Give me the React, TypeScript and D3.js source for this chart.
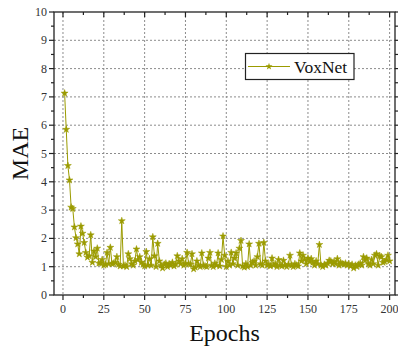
import React from "react";
import * as d3 from "d3";

const epochs: number[] = Array.from({ length: 200 }, (_, i) => i + 1);
const maeValues: number[] = [
  7.13, 5.85, 4.57, 4.06, 3.1, 3.05, 2.4, 2.02, 1.8, 1.45,
  2.43, 2.18, 1.85, 1.5, 1.33, 1.38, 2.12, 1.15, 1.55, 1.35,
  1.65, 1.12, 1.13, 1.25, 1.05, 1.08, 1.5, 1.1, 1.68, 1.1,
  1.12, 1.15, 1.35, 1.08, 1.02, 2.62, 1.02, 1.05, 1.0, 1.45,
  1.28, 1.1, 1.05, 1.2, 1.62, 1.25, 1.35, 1.15, 1.08, 1.02,
  1.53, 1.05, 1.28, 1.05, 2.05, 1.38, 1.0, 1.82, 1.2, 1.05,
  0.95, 1.08, 1.12, 1.0, 1.1, 1.05, 1.15, 1.02, 1.08, 1.38,
  1.2, 1.1, 1.28, 1.05, 1.12, 1.5, 1.1, 1.08, 1.45, 0.92,
  0.98, 1.2, 1.05, 1.0, 1.48, 1.05, 1.02, 1.0, 1.3, 1.5,
  1.05, 1.0, 1.12, 1.05, 1.48, 1.02, 1.25, 2.08, 1.4, 1.0,
  1.2, 1.05, 1.5, 1.1, 1.3, 1.48, 1.05, 1.65, 1.92, 1.02,
  0.98, 1.1, 1.0, 1.8, 1.05, 1.15, 1.2, 1.05, 1.35, 1.82,
  1.1, 1.05, 1.85, 1.2, 1.05, 1.08, 1.02, 1.3, 1.05, 1.1,
  1.0, 1.25, 1.05, 1.02, 1.22, 1.05, 1.0, 1.08, 1.4, 1.05,
  1.0, 1.1, 1.05, 1.02, 1.48, 1.2, 1.4, 1.25, 1.1, 1.3,
  1.18, 1.28, 1.15, 1.05, 1.2, 1.1, 1.78, 1.05, 1.0, 1.08,
  1.05, 1.12, 1.22, 1.2, 1.1, 1.18, 1.1, 1.28, 1.05, 1.15,
  1.1, 1.08, 1.12, 1.05, 1.1, 1.02, 1.08, 0.95, 1.05, 1.0,
  1.08, 1.12, 1.05, 1.35, 1.22, 1.3, 1.1, 1.05, 1.25, 1.1,
  1.4, 1.45, 1.05, 1.38, 1.35, 1.15, 1.18, 1.25, 1.4, 1.2,
];
const xTicks: number[] = [0, 25, 50, 75, 100, 125, 150, 175, 200];
const yTicks: number[] = [0, 1, 2, 3, 4, 5, 6, 7, 8, 9, 10];
const seriesName = "VoxNet";

const W = 398;
const H = 349;
const L = 54;
const R = 395;
const T = 12;
const B = 295;
const COLOR = "#9b9b00";
const FONT = '"Liberation Serif", "DejaVu Serif", serif';
const fontStyle = { fontFamily: FONT };

export default function App() {
  const x = d3.scaleLinear().domain([-5.5, 203.3]).range([L, R]);
  const y = d3.scaleLinear().domain([0, 10]).range([B, T]);
  const line = d3
    .line<number>()
    .x((_, i) => x(epochs[i]))
    .y((d) => y(d));
  const star = d3.symbol(d3.symbolStar, 15)() as string;
  const xMinor = xTicks.slice(0, -1).map((t) => t + 12.5);
  const yMinor = yTicks.slice(0, -1).map((t) => t + 0.5);

  return (
    <svg
      width={W}
      height={H}
      style={{ position: "absolute", left: 0, top: 0, background: "#fff" }}
    >
      <rect x={0} y={0} width={W} height={H} fill="#fff" />
      {/* grid */}
      <g stroke="#8c8c8c" strokeWidth={1} strokeDasharray="2,2">
        {xTicks.map((t) => (
          <line key={"gx" + t} x1={x(t)} x2={x(t)} y1={T} y2={B} />
        ))}
        {yTicks.slice(1, -1).map((t) => (
          <line key={"gy" + t} x1={L} x2={R} y1={y(t)} y2={y(t)} />
        ))}
      </g>
      {/* data */}
      <path d={line(maeValues) || ""} fill="none" stroke={COLOR} strokeWidth={1} />
      {maeValues.map((v, i) => (
        <path
          key={"m" + i}
          d={star}
          transform={`translate(${x(epochs[i])},${y(v)})`}
          fill={COLOR}
          stroke={COLOR}
          strokeWidth={0.5}
        />
      ))}
      {/* frame */}
      <rect x={L} y={T} width={R - L} height={B - T} fill="none" stroke="#222" strokeWidth={1.3} />
      {/* ticks */}
      <g stroke="#222" strokeWidth={1.2}>
        {xTicks.map((t) => (
          <line key={"bt" + t} x1={x(t)} x2={x(t)} y1={B} y2={B + 5} />
        ))}
        {xMinor.map((t) => (
          <line key={"bm" + t} x1={x(t)} x2={x(t)} y1={B} y2={B + 3} />
        ))}
        {xTicks.map((t) => (
          <line key={"tt" + t} x1={x(t)} x2={x(t)} y1={T} y2={T + 5} />
        ))}
        {xMinor.map((t) => (
          <line key={"tm" + t} x1={x(t)} x2={x(t)} y1={T} y2={T + 3} />
        ))}
        {yTicks.map((t) => (
          <line key={"lt" + t} x1={L - 5} x2={L} y1={y(t)} y2={y(t)} />
        ))}
        {yMinor.map((t) => (
          <line key={"lm" + t} x1={L - 3} x2={L} y1={y(t)} y2={y(t)} />
        ))}
        {yTicks.map((t) => (
          <line key={"rt" + t} x1={R} x2={R + 5} y1={y(t)} y2={y(t)} />
        ))}
        {yMinor.map((t) => (
          <line key={"rm" + t} x1={R} x2={R + 3} y1={y(t)} y2={y(t)} />
        ))}
      </g>
      {/* tick labels */}
      <g fill="#333" style={{ ...fontStyle, fontSize: 12 }}>
        {xTicks.map((t) => (
          <text key={"xl" + t} x={x(t)} y={B + 18} textAnchor="middle" style={fontStyle}>
            {t}
          </text>
        ))}
        {yTicks.map((t) => (
          <text key={"yl" + t} x={L - 7} y={y(t) + 4} textAnchor="end" style={fontStyle}>
            {t}
          </text>
        ))}
      </g>
      {/* axis titles */}
      <text
        x={(L + R) / 2}
        y={341}
        textAnchor="middle"
        fill="#111"
        style={{ ...fontStyle, fontSize: 24 }}
      >
        Epochs
      </text>
      <text
        transform={`translate(28,${(T + B) / 2}) rotate(-90)`}
        textAnchor="middle"
        fill="#111"
        style={{ ...fontStyle, fontSize: 24 }}
      >
        MAE
      </text>
      {/* legend */}
      <g>
        <rect x={245.5} y={53.5} width={108.5} height={26} fill="#fff" stroke="#222" strokeWidth={1.2} />
        <line x1={248} x2={290} y1={66.5} y2={66.5} stroke={COLOR} strokeWidth={1.2} />
        <path d={star} transform="translate(269,66.5)" fill={COLOR} />
        <text x={294} y={72.5} fill="#111" style={{ ...fontStyle, fontSize: 17.5 }}>
          {seriesName}
        </text>
      </g>
    </svg>
  );
}
